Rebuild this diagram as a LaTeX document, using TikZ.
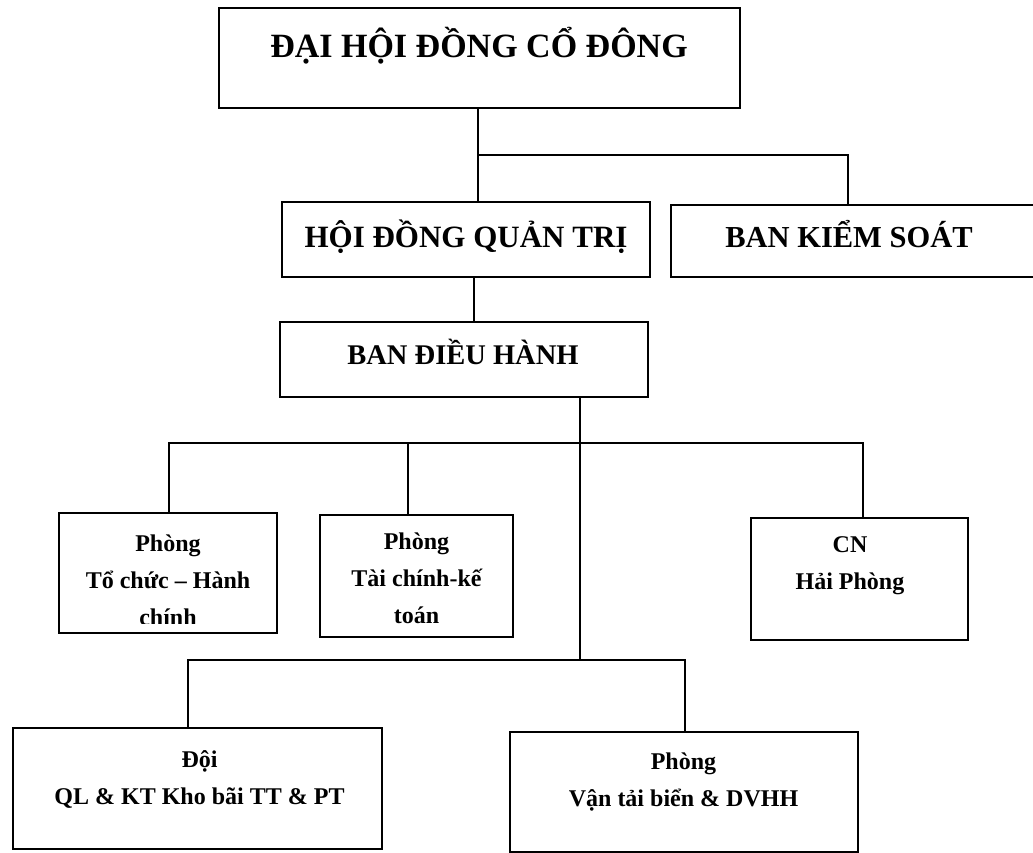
\documentclass[tikz,border=0pt]{standalone}
\usepackage{fontspec}
\setmainfont{Liberation Serif}
\usetikzlibrary{positioning}

\begin{document}
\begin{tikzpicture}[x=1pt,y=1pt,
    box/.style={draw, line width=1.8pt, inner sep=0pt},
    head/.style={font=\fontsize{#1}{#1}\selectfont\bfseries, inner sep=0pt, anchor=base},
    unit/.style={font=\fontsize{24}{37}\selectfont\bfseries, align=center, inner sep=0pt, anchor=north},
    link/.style={line width=1.2pt}]
  \useasboundingbox (0,0) rectangle (1033,853);
  % boxes
  \node[box, minimum width=521pt, minimum height=100pt] (dhdcd) at (479.5,795) {};
  \node[box, minimum width=368pt, minimum height=75pt] (hdqt) at (466,613.5) {};
  \node[box, minimum width=369pt, minimum height=72pt] (bks) at (855.5,612) {};
  \node[box, minimum width=368pt, minimum height=75pt] (bdh) at (464,493.5) {};
  \node[box, minimum width=218pt, minimum height=120pt] (tcch) at (168,280) {};
  \node[box, minimum width=193pt, minimum height=122pt] (tckt) at (416.5,277) {};
  \node[box, minimum width=217pt, minimum height=122pt] (cnhp) at (859.5,274) {};
  \node[box, minimum width=369pt, minimum height=121pt] (doi) at (197.5,64.5) {};
  \node[box, minimum width=348pt, minimum height=120pt] (vtb) at (684,61) {};
  % texts
  \node[head=34] (dhdcdtext) at (479,795) {ĐẠI HỘI ĐỒNG CỔ ĐÔNG};
  \node[head=31] (hdqttext) at (466,605) {HỘI ĐỒNG QUẢN TRỊ};
  \node[head=30.5] (bkstext) at (849,605) {BAN KIỂM SOÁT};
  \node[head=28.5] (bdhtext) at (463,488) {BAN ĐIỀU HÀNH};
  \begin{scope}
    \clip ([yshift=10pt]tcch.south west) rectangle (tcch.north east);
    \node[unit] (tcchtext) at (168,318) {Phòng\\Tổ chức – Hành\\chính};
  \end{scope}
  \node[unit] (tckttext) at (416.5,320) {Phòng\\Tài chính-kế\\toán};
  \node[unit] (cnhptext) at (850,317) {CN\\Hải Phòng};
  \node[unit] (doitext) at (199.5,103) {Đội\\QL \& KT Kho bãi TT \& PT};
  \node[unit] (vtbtext) at (683.5,100) {Phòng\\Vận tải biển \& DVHH};
  % connectors
  \coordinate (j1) at (478,698);
  \coordinate (j2) at (848,698);
  \draw[link] (j1 |- dhdcd.south) -- (j1 |- hdqt.north);
  \draw[link] (j1) -- (j2) -- (j2 |- bks.north);
  \draw[link] ([xshift=8pt]hdqt.south) -- ([xshift=8pt]hdqt.south |- bdh.north);
  \coordinate (trunk) at (580,410);
  \coordinate (d1) at (169,410);
  \coordinate (d2) at (408,410);
  \coordinate (d3) at (863,410);
  \coordinate (e1) at (188,193);
  \coordinate (e2) at (685,193);
  \draw[link] (trunk |- bdh.south) -- (trunk |- e1);
  \draw[link] (d1 |- tcch.north) -- (d1) -- (d3) -- (d3 |- cnhp.north);
  \draw[link] (d2) -- (d2 |- tckt.north);
  \draw[link] (e1 |- doi.north) -- (e1) -- (e2) -- (e2 |- vtb.north);
\end{tikzpicture}
\end{document}
